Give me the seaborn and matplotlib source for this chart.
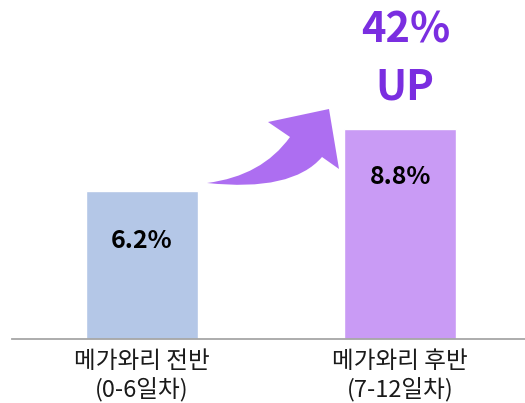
import numpy as np
import pandas as pd
import seaborn as sns
import matplotlib.pyplot as plt
from matplotlib.path import Path
from matplotlib.patches import PathPatch

# data
categories = ['메가와리 전반\n(0-6일차)', '메가와리 후반\n(7-12일차)']
values = [6.2, 8.8]
value_labels = ['6.2%', '8.8%']
bar_colors = ['#B4C7E7', '#C99BF5']
headline = ['42%', 'UP']

sns.set_theme(style='white')
plt.rcParams['font.family'] = ['Noto Sans CJK KR', 'DejaVu Sans']

W, H = 525, 403
fig = plt.figure(figsize=(W / 100, H / 100), dpi=100)
fig.patch.set_facecolor('white')
ax = fig.add_axes([12 / W, 64 / H, 1 - 12 / W, 339 / H])

df = pd.DataFrame({'period': categories, 'rate': values})
sns.barplot(data=df, x='period', y='rate', hue='period', palette=bar_colors,
            width=0.434, legend=False, ax=ax, saturation=1)

ax.set_xlim(-0.504, 1.484)
ax.set_ylim(0, 14.2)
ax.set_xlabel('')
ax.set_ylabel('')
ax.set_yticks([])
ax.tick_params(axis='x', length=0, pad=8)
for lab in ax.get_xticklabels():
    lab.set_fontsize(17)
    lab.set_linespacing(1.25)
    lab.set_color('#1a1a1a')
for side in ['top', 'left', 'right']:
    ax.spines[side].set_visible(False)
ax.spines['bottom'].set_color('#A6A6A6')
ax.spines['bottom'].set_linewidth(1.3)
ax.set_facecolor('white')

# value labels inside bars
for i, (v, t) in enumerate(zip(values, value_labels)):
    ax.text(i, v - 2.1 if i == 0 else v - 2.0, t, ha='center', va='center',
            fontsize=18, fontweight='bold', color='black')

# headline above second bar, one line at a time
for t, yb in zip(headline, [12.41, 10.02]):
    ax.text(1.02, yb, t, ha='center', va='baseline', fontsize=30,
            fontweight='bold', color='#7A2EE0')

# curved arrow (pixel coords, y down)
pts = [(207, 183), (262, 176), (290, 137), (268, 122), (329, 109),
       (339, 169), (322, 157), (292, 192), (207, 183), (207, 183)]
codes = [Path.MOVETO, Path.CURVE3, Path.CURVE3, Path.LINETO, Path.LINETO,
         Path.LINETO, Path.LINETO, Path.CURVE3, Path.CURVE3, Path.CLOSEPOLY]
verts = [(x / W, 1 - y / H) for x, y in pts]
arrow = PathPatch(Path(verts, codes), facecolor='#AD6EF1', edgecolor='none',
                  transform=fig.transFigure)
fig.patches.append(arrow)

fig.savefig('out.png', dpi=100, facecolor='white')
